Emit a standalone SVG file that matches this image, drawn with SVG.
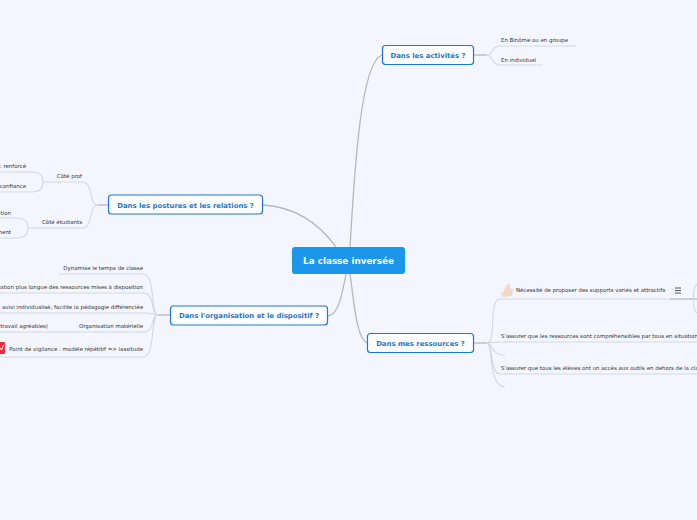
<svg xmlns="http://www.w3.org/2000/svg" width="697" height="520" viewBox="0 0 697 520">
<style>
text{font-family:"DejaVu Sans",Verdana,sans-serif}
.m{font-size:6.9px;font-weight:700;fill:#1976d2;text-anchor:middle}
.n{fill:#fff;stroke:#1976e0;stroke-width:1.2}
.s{font-size:5.45px;fill:#333}
.e{text-anchor:end}
.c{fill:none;stroke:#b8b8b8;stroke-width:1.3}
.b{fill:none;stroke:#d4d7e0;stroke-width:1.1}
</style>
<rect width="697" height="520" fill="#f3f6ff"/>
<g id="connectors">
<path class="c" d="M350 247C354 180 360 62 382 55"/>
<path class="c" d="M336 247C318 222 295 207 263 205"/>
<path class="c" d="M346 274C342 296 338 315 328 316"/>
<path class="c" d="M350 274C354 300 356 338 367 343"/>
<path class="c" d="M474 55H487"/>
<path class="b" d="M487 55C493 55 491 46 500 46H576M487 55C493 55 491 65 500 65H543"/>
<path class="c" d="M108 205H98"/>
<path class="b" d="M98 205C88 205 94 182 82 182H43M98 205C88 205 94 228 82 228H28"/>
<path class="b" d="M43 182C43 172 36 172 28 172H0M43 182C43 192 36 192 28 192H0"/>
<path class="b" d="M28 228C28 218 20 218 14 218H0M28 228C28 238 20 238 14 238H0"/>
<path class="c" d="M170 315H158"/>
<path class="b" d="M158 315C150 315 156 274 143 274H59M158 315C150 315 156 293 143 293H0M158 315C152 315 153 313 143 313H0M158 315C150 315 156 332 143 332H0M158 315C150 315 156 357 143 357H0"/>
<path class="c" d="M474 343H487"/>
<path class="b" d="M487 343C497 343 488 299 500 299H670M487 343C493 343 492 342 500 342H697M487 343C493 343 490 355 505 355M487 343C493 343 490 374 500 374H697M487 343C493 343 488 387 505 387"/>
<path class="c" d="M670 299H697"/>
<path class="b" d="M697 284C692 288 692 310 697 313"/>
</g>
<g id="root"><rect x="292" y="247" width="113" height="27" rx="3" fill="#1b96ea"/><text x="348.500" y="264" font-size="8.800px" font-weight="700" fill="#fff" text-anchor="middle">La classe inversée</text></g>
<g id="n1"><rect class="n" x="382.500" y="45.500" width="91" height="19" rx="3"/><text class="m" x="428" y="58">Dans les activités ?</text></g>
<g id="n2"><rect class="n" x="108.500" y="195" width="154" height="19" rx="3"/><text class="m" x="185.500" y="208">Dans les postures et les relations ?</text></g>
<g id="n3"><rect class="n" x="170.500" y="306" width="157" height="19" rx="3"/><text class="m" x="249" y="318">Dans l'organisation et le dispositif ?</text></g>
<g id="n4"><rect class="n" x="367.500" y="333.500" width="106" height="19" rx="3"/><text class="m" x="420.500" y="346">Dans mes ressources ?</text></g>
<g id="t1"><text class="s" x="501" y="42">En Binôme ou en groupe</text></g>
<g id="t2"><text class="s" x="501" y="62">En individuel</text></g>
<g id="t3"><text class="s e" x="82" y="178">Côté prof</text></g>
<g id="t4"><text class="s e" x="82" y="224">Côté étudiants</text></g>
<g id="t5"><text class="s e" x="26" y="168">: renforcé</text></g>
<g id="t6"><text class="s e" x="26" y="188">confiance</text></g>
<g id="t7"><text class="s e" x="11" y="215">tion</text></g>
<g id="t8"><text class="s e" x="11" y="234">ment</text></g>
<g id="t9"><text class="s e" x="143" y="270">Dynamise le temps de classe</text></g>
<g id="t10"><text class="s e" x="143" y="289">ation plus longue des ressources mises à disposition</text></g>
<g id="t11"><text class="s e" x="143" y="309">suivi individualisé, facilite la pédagogie différenciée</text></g>
<g id="t12"><text class="s e" x="143" y="328">Organisation matérielle</text><text class="s e" x="48" y="328">travail agréables)</text></g>
<g id="t13"><rect x="-4" y="342" width="9" height="12" rx="1" fill="#e8303a"/><path d="M0 348l1.500 2 2-5" fill="none" stroke="#fff" stroke-width="1"/><text class="s e" x="143" y="351">Point de vigilance : modèle répétitif =&gt; lassitude</text></g>
<g id="t14"><path d="M503 295l1-5 4-6h2l0 4 3 1-1 7-7 1z" fill="#f2d6c6"/><rect x="501" y="292" width="3" height="5" fill="#e8e4dc"/><text class="s" x="516" y="292">Nécessité de proposer des supports variés et attractifs</text><path d="M675 288h6M675 290.500h6M675 293h6" stroke="#444" stroke-width="0.9"/></g>
<g id="t15"><text class="s" x="501" y="338">S'assurer que les ressources sont compréhensibles par tous en situation</text></g>
<g id="t16"><text class="s" x="501" y="370">S'assurer que tous les élèves ont un accès aux outils en dehors de la classe</text></g>
</svg>
